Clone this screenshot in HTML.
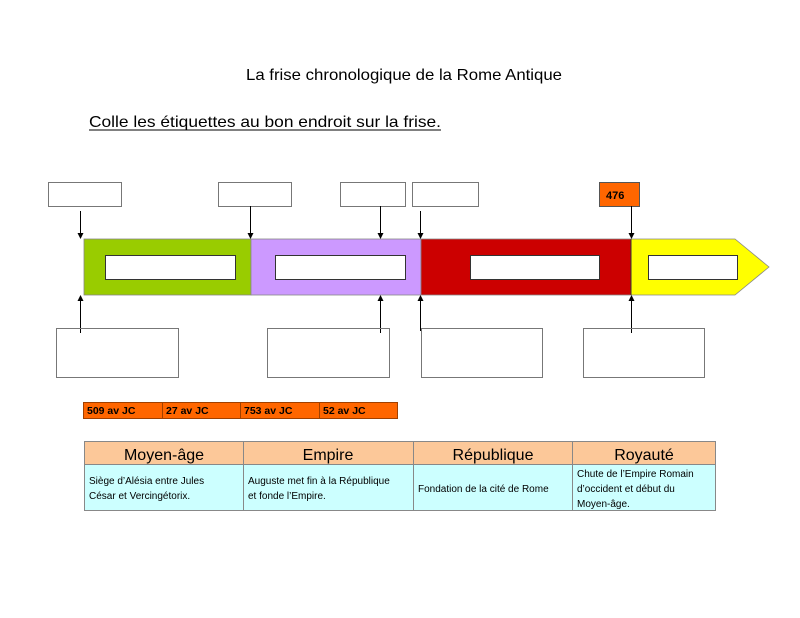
<!DOCTYPE html>
<html><head><meta charset="utf-8"><style>
html,body{margin:0;padding:0;background:#fff;}
svg{display:block;}
text{font-family:"Liberation Sans",sans-serif;fill:#000;}
</style></head><body>
<svg width="800" height="618" viewBox="0 0 800 618" xmlns="http://www.w3.org/2000/svg">
<rect width="800" height="618" fill="#fff"/>
<text x="246" y="80" font-size="16" textLength="316" lengthAdjust="spacingAndGlyphs">La frise chronologique de la Rome Antique</text>
<text x="89" y="127" font-size="16" textLength="352" lengthAdjust="spacingAndGlyphs">Colle les étiquettes au bon endroit sur la frise.</text>
<line x1="89" y1="130" x2="441" y2="130" stroke="#000" stroke-width="1"/>

<!-- top boxes -->
<g fill="#fff" stroke="#777" stroke-width="1">
<rect x="48.5" y="182.5" width="73" height="24"/>
<rect x="218.5" y="182.5" width="73" height="24"/>
<rect x="340.5" y="182.5" width="65" height="24"/>
<rect x="412.5" y="182.5" width="66" height="24"/>
</g>
<rect x="599.5" y="182.5" width="40" height="24" fill="#ff6600" stroke="#555"/>
<text x="606" y="199" font-size="11" font-weight="bold">476</text>

<!-- bar -->
<rect x="84" y="239" width="167" height="56" fill="#99cc00" stroke="#888" stroke-width="0.8"/>
<rect x="251" y="239" width="170" height="56" fill="#cc99ff" stroke="#888" stroke-width="0.8"/>
<rect x="421" y="239" width="210" height="56" fill="#cc0000" stroke="#888" stroke-width="0.8"/>
<path d="M631,239 L735,239 L769,267 L735,295 L631,295 z" fill="#ffff00" stroke="#888" stroke-width="0.8"/>
<line x1="631" y1="239" x2="631" y2="295" stroke="#333" stroke-width="1"/>
<g fill="#fff" stroke="#333" stroke-width="1">
<rect x="105.5" y="255.5" width="130" height="24"/>
<rect x="275.5" y="255.5" width="130" height="24"/>
<rect x="470.5" y="255.5" width="129" height="24"/>
<rect x="648.5" y="255.5" width="89" height="24"/>
</g>

<!-- arrows -->
<g stroke="#000" stroke-width="1">
<line x1="80.5" y1="211" x2="80.5" y2="235"/>
<line x1="250.5" y1="206" x2="250.5" y2="235"/>
<line x1="380.5" y1="206" x2="380.5" y2="235"/>
<line x1="420.5" y1="211" x2="420.5" y2="235"/>
<line x1="631.5" y1="206" x2="631.5" y2="235"/>
<line x1="80.5" y1="333" x2="80.5" y2="299"/>
<line x1="380.5" y1="333" x2="380.5" y2="299"/>
<line x1="420.5" y1="331" x2="420.5" y2="299"/>
<line x1="631.5" y1="333" x2="631.5" y2="299"/>
</g>
<g fill="#000">
<polygon points="77.5,233 83.5,233 80.5,239"/>
<polygon points="247.5,233 253.5,233 250.5,239"/>
<polygon points="377.5,233 383.5,233 380.5,239"/>
<polygon points="417.5,233 423.5,233 420.5,239"/>
<polygon points="628.5,233 634.5,233 631.5,239"/>
<polygon points="77.5,301 83.5,301 80.5,295"/>
<polygon points="377.5,301 383.5,301 380.5,295"/>
<polygon points="417.5,301 423.5,301 420.5,295"/>
<polygon points="628.5,301 634.5,301 631.5,295"/>
</g>

<!-- bottom boxes -->
<g fill="none" stroke="#777" stroke-width="1">
<rect x="56.5" y="328.5" width="122" height="49"/>
<rect x="267.5" y="328.5" width="122" height="49"/>
<rect x="421.5" y="328.5" width="121" height="49"/>
<rect x="583.5" y="328.5" width="121" height="49"/>
</g>

<!-- date strip -->
<rect x="83.5" y="402.5" width="314" height="16" fill="#ff6600" stroke="#a04000"/>
<g stroke="#a04000"><line x1="162.5" y1="402" x2="162.5" y2="419"/><line x1="240.5" y1="402" x2="240.5" y2="419"/><line x1="319.5" y1="402" x2="319.5" y2="419"/></g>
<g font-size="10.5" font-weight="bold">
<text x="87" y="414">509 av JC</text>
<text x="166" y="414">27 av JC</text>
<text x="244" y="414">753 av JC</text>
<text x="323" y="414">52 av JC</text>
</g>

<!-- table -->
<rect x="84.5" y="441.5" width="631" height="23" fill="#fcc899"/>
<rect x="84.5" y="464.5" width="631" height="46" fill="#ccffff"/>
<g stroke="#888" fill="none" stroke-width="1">
<rect x="84.5" y="441.5" width="631" height="69"/>
<line x1="84" y1="464.5" x2="716" y2="464.5"/>
<line x1="243.5" y1="441" x2="243.5" y2="511"/>
<line x1="413.5" y1="441" x2="413.5" y2="511"/>
<line x1="572.5" y1="441" x2="572.5" y2="511"/>
</g>
<g font-size="16" text-anchor="middle">
<text x="164" y="460">Moyen-âge</text>
<text x="328" y="460">Empire</text>
<text x="493" y="460">République</text>
<text x="644" y="460">Royauté</text>
</g>
<g font-size="10">
<text x="89" y="484">Siège d’Alésia entre Jules</text>
<text x="89" y="499">César et Vercingétorix.</text>
<text x="248" y="484">Auguste met fin à la République</text>
<text x="248" y="499">et fonde l’Empire.</text>
<text x="418" y="492">Fondation de la cité de Rome</text>
<text x="577" y="477">Chute de l’Empire Romain</text>
<text x="577" y="492">d’occident et début du</text>
<text x="577" y="507">Moyen-âge.</text>
</g>
</svg>
</body></html>
